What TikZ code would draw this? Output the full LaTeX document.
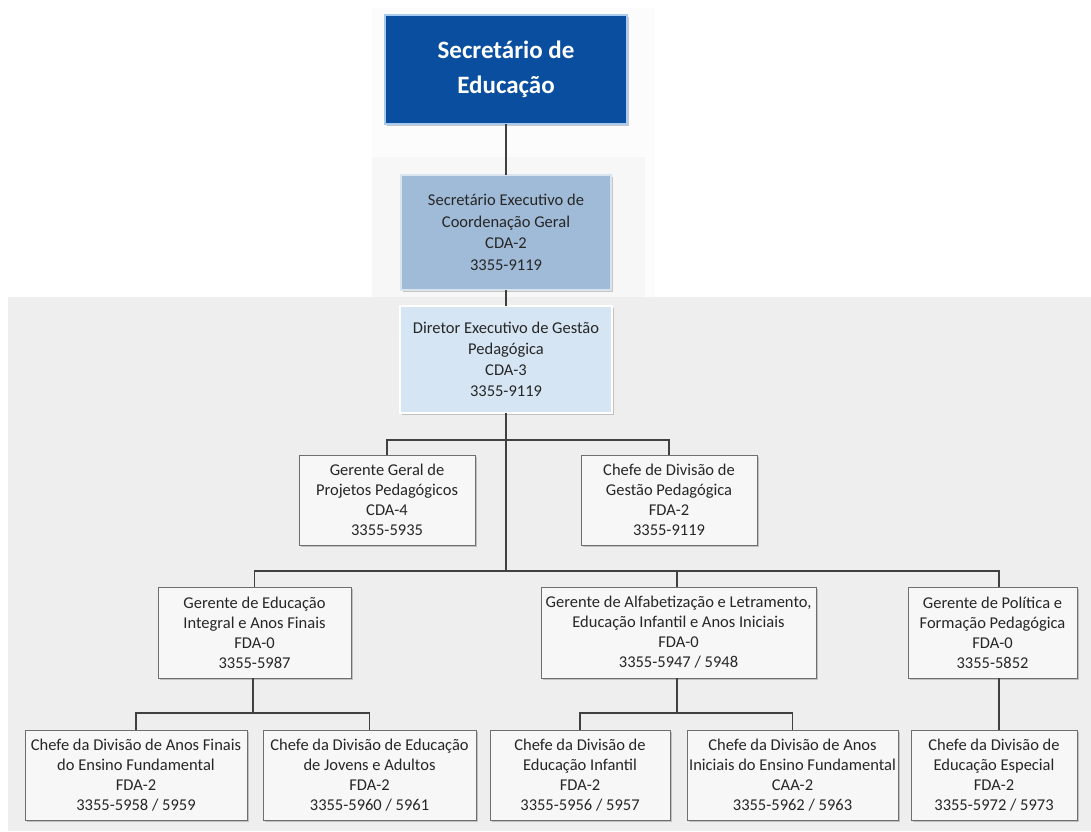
\documentclass[tikz,border=0pt]{standalone}
\usepackage{fontspec}
\setmainfont{Carlito}
\usetikzlibrary{shadows}
\definecolor{topblue}{HTML}{0A4F9F}
\definecolor{topedge}{HTML}{A9CBEE}
\definecolor{execfill}{HTML}{A0BBD7}
\definecolor{dirfill}{HTML}{D5E5F3}
\definecolor{panel}{HTML}{EEEEEE}
\definecolor{linec}{HTML}{404040}
\definecolor{edgec}{HTML}{6E6E6E}
\tikzset{
  shad/.style={drop shadow={shadow xshift=1.5pt,shadow yshift=-1.5pt,fill=black!45,opacity=0.45}},
  topbox/.style={shad,draw=topblue!70!black,double=topedge,double distance=1.4pt,fill=topblue,
    text=white,align=center,inner sep=0pt,font=\fontsize{25}{35}\selectfont\bfseries},
  execbox/.style={shad,draw=edgec!70!black,double=execfill!40!white,double distance=1.2pt,fill=execfill,
    text=black!85,align=center,inner sep=0pt,font=\fontsize{16.5}{21.5}\selectfont},
  dirbox/.style={shad,draw=edgec,double=white,double distance=1.2pt,fill=dirfill,
    text=black!85,align=center,inner sep=0pt,font=\fontsize{16.5}{21}\selectfont},
  orgbox/.style={shad,draw=edgec,line width=0.9pt,fill=white!97!black,
    text=black!85,align=center,inner sep=0pt,font=\fontsize{16.5}{20}\selectfont},
  conn/.style={draw=linec,line width=1.8pt}
}
\begin{document}
\begin{tikzpicture}[x=1pt,y=-1pt]
\useasboundingbox (0,0) rectangle (1091,831);
\fill[white] (0,0) rectangle (1091,831);
% backgrounds
\fill[white!98.8!black] (372,8) rectangle (655,297);
\fill[white!97!black] (372,157) rectangle (645,297);
\fill[panel] (8,297) rectangle (1091,831);

% nodes
\node[topbox,minimum width=242pt,minimum height=109pt] (top) at (506,69.5) {Secretário de\\Educação};
\node[execbox,minimum width=210pt,minimum height=115pt] (exec) at (506,232.5) {Secretário Executivo de\\Coordenação Geral\\CDA-2\\3355-9119};
\node[dirbox,minimum width=212pt,minimum height=107pt] (dir) at (506,359.5) {Diretor Executivo de Gestão\\Pedagógica\\CDA-3\\3355-9119};

\node[orgbox,minimum width=176pt,minimum height=90pt] (gg) at (387,500) {Gerente Geral de\\Projetos Pedagógicos\\CDA-4\\3355-5935};
\node[orgbox,minimum width=176pt,minimum height=90pt] (cd) at (669,500) {Chefe de Divisão de\\Gestão Pedagógica\\FDA-2\\3355-9119};

\node[orgbox,minimum width=193pt,minimum height=91pt] (ge) at (254.5,632.5) {Gerente de Educação\\Integral e Anos Finais\\FDA-0\\3355-5987};
\node[orgbox,minimum width=275pt,minimum height=91pt] (ga) at (678.5,632.5) {Gerente de Alfabetização e Letramento,\\Educação Infantil e Anos Iniciais\\FDA-0\\3355-5947 / 5948};
\node[orgbox,minimum width=169pt,minimum height=91pt] (gp) at (992.5,632.5) {Gerente de Política e\\Formação Pedagógica\\FDA-0\\3355-5852};

\node[orgbox,minimum width=222pt,minimum height=90pt] (b1) at (136,775) {Chefe da Divisão de Anos Finais\\do Ensino Fundamental\\FDA-2\\3355-5958 / 5959};
\node[orgbox,minimum width=213pt,minimum height=90pt] (b2) at (369.5,775) {Chefe da Divisão de Educação\\de Jovens e Adultos\\FDA-2\\3355-5960 / 5961};
\node[orgbox,minimum width=180pt,minimum height=90pt] (b3) at (580,775) {Chefe da Divisão de\\Educação Infantil\\FDA-2\\3355-5956 / 5957};
\node[orgbox,minimum width=211pt,minimum height=90pt] (b4) at (792.5,775) {Chefe da Divisão de Anos\\Iniciais do Ensino Fundamental\\CAA-2\\3355-5962 / 5963};
\node[orgbox,minimum width=166pt,minimum height=90pt] (b5) at (994,775) {Chefe da Divisão de\\Educação Especial\\FDA-2\\3355-5972 / 5973};

% junction coordinates
\coordinate (j1) at (506,440);
\coordinate (j2) at (506,571);
\coordinate (j3) at (253,713);
\coordinate (j4) at (677,713);

% connectors
\draw[conn] (top.south) -- (exec.north);
\draw[conn] (exec.south) -- (dir.north);
\draw[conn] (dir.south) -- (j2);
\draw[conn] (gg.north) |- (j1) -| (cd.north);
\draw[conn] (ge.north) |- (j2) -| ([xshift=-1.5pt]ga.north);
\draw[conn] (j2) -| ([xshift=6.5pt]gp.north);
\draw[conn] ([xshift=-1.5pt]ge.south) -- (j3);
\draw[conn] (b1.north) |- (j3) -| (b2.north);
\draw[conn] ([xshift=-1.5pt]ga.south) -- (j4);
\draw[conn] (b3.north) |- (j4) -| (b4.north);
\draw[conn] ([xshift=6.5pt]gp.south) -- ([xshift=6.5pt]gp.south |- b5.north);
\end{tikzpicture}
\end{document}
